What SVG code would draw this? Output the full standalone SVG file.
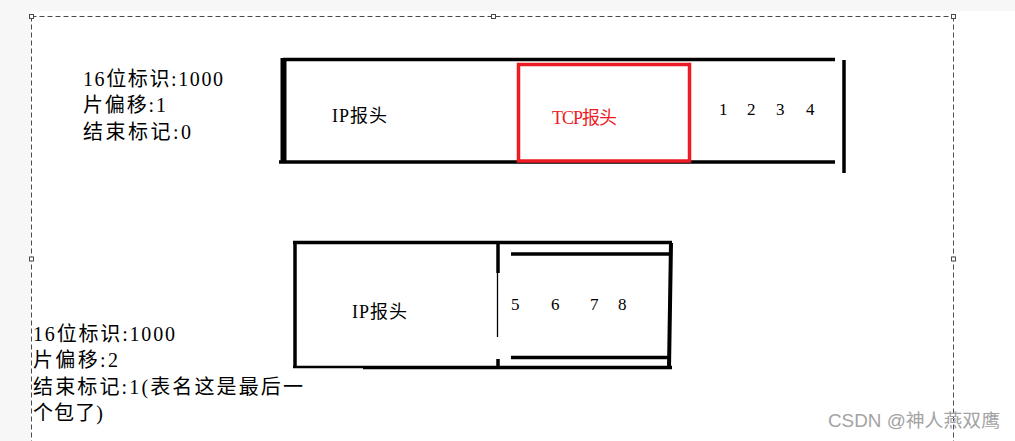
<svg xmlns="http://www.w3.org/2000/svg" width="1015" height="441" viewBox="0 0 1015 441">
<style>
.bg{fill:#f7f7f7}
.sel{fill:none;stroke:#4a4a4a;stroke-width:1;stroke-dasharray:5 3}
.hd{fill:#fff;stroke:#4a4a4a;stroke-width:1}
.k{stroke:#000;stroke-width:3.5;fill:none;stroke-linecap:butt}
.t{font-family:"Liberation Serif","Noto Sans CJK SC",serif;fill:#000}
.info{font-size:20px}
.lbl{font-size:18px}
.num{font-size:17px}
.wm{font-family:"Liberation Sans","Noto Sans CJK SC",sans-serif;font-size:18px;fill:#a3a3a3}
</style>
<rect x="0" y="0" width="1015" height="441" fill="#fff"/>
<rect class="bg" x="0" y="0" width="1015" height="11"/>
<rect class="bg" x="0" y="0" width="31" height="441"/>
<g id="selection">
<path class="sel" d="M31.5 16.5H953.5M31.5 16.5V441M953.5 16.5V441"/>
<rect class="hd" x="29.5" y="14.5" width="4" height="4"/>
<rect class="hd" x="491.5" y="14.5" width="4" height="4"/>
<rect class="hd" x="951.5" y="14.5" width="4" height="4"/>
<rect class="hd" x="29.5" y="257" width="4" height="4"/>
<rect class="hd" x="951.5" y="257" width="4" height="4"/>
</g>
<g id="info1">
<text class="t info" x="83" y="86" textLength="140" lengthAdjust="spacing">16位标识:1000</text>
<text class="t info" x="83" y="112" textLength="83" lengthAdjust="spacing">片偏移:1</text>
<text class="t info" x="83" y="139" textLength="108" lengthAdjust="spacing">结束标记:0</text>
</g>
<g id="packet1">
<line class="k" x1="283" y1="59.5" x2="835" y2="59.5"/>
<line class="k" x1="283.5" y1="58" x2="283.5" y2="163" style="stroke-width:6"/>
<line class="k" x1="279" y1="162" x2="835" y2="162"/>
<line class="k" x1="844" y1="60" x2="844" y2="173"/>
<rect x="518.5" y="64.5" width="171" height="96.5" fill="none" stroke="#ed1c24" stroke-width="3.5"/>
<text class="t lbl" x="332" y="122" textLength="55" lengthAdjust="spacing">IP报头</text>
<text class="t lbl" x="552" y="124" style="fill:#ed1c24" textLength="65" lengthAdjust="spacing">TCP报头</text>
<text class="t num" x="719" y="115">1</text>
<text class="t num" x="747" y="115">2</text>
<text class="t num" x="776" y="115">3</text>
<text class="t num" x="806" y="115">4</text>
</g>
<g id="packet2">
<line class="k" x1="293" y1="242.5" x2="672" y2="242.5"/>
<line class="k" x1="295" y1="241" x2="295" y2="368"/>
<line class="k" x1="293" y1="367" x2="363" y2="367" style="stroke-width:2.5"/>
<line class="k" x1="363" y1="367.5" x2="672" y2="367.5"/>
<line class="k" x1="498" y1="241" x2="498" y2="273"/>
<line class="k" x1="497.5" y1="273" x2="497.5" y2="337" style="stroke-width:1.3"/>
<line class="k" x1="498" y1="359" x2="498" y2="368"/>
<line class="k" x1="511" y1="254" x2="670" y2="254"/>
<line class="k" x1="511" y1="357.5" x2="668" y2="357.5"/>
<line class="k" x1="671" y1="243" x2="669" y2="368" style="stroke-width:4"/>
<text class="t lbl" x="352" y="318" textLength="55" lengthAdjust="spacing">IP报头</text>
<text class="t num" x="511" y="310">5</text>
<text class="t num" x="551" y="310">6</text>
<text class="t num" x="590" y="310">7</text>
<text class="t num" x="618" y="310">8</text>
</g>
<g id="info2">
<text class="t info" x="33" y="341" textLength="142" lengthAdjust="spacing">16位标识:1000</text>
<text class="t info" x="33" y="367" textLength="85" lengthAdjust="spacing">片偏移:2</text>
<text class="t info" x="33" y="394" textLength="270" lengthAdjust="spacing">结束标记:1(表名这是最后一</text>
<text class="t info" x="33" y="420" textLength="70" lengthAdjust="spacing">个包了)</text>
</g>
<g id="connectors"/>
<text class="wm" x="828" y="427" textLength="172" lengthAdjust="spacingAndGlyphs">CSDN @神人燕双鹰</text>
</svg>
